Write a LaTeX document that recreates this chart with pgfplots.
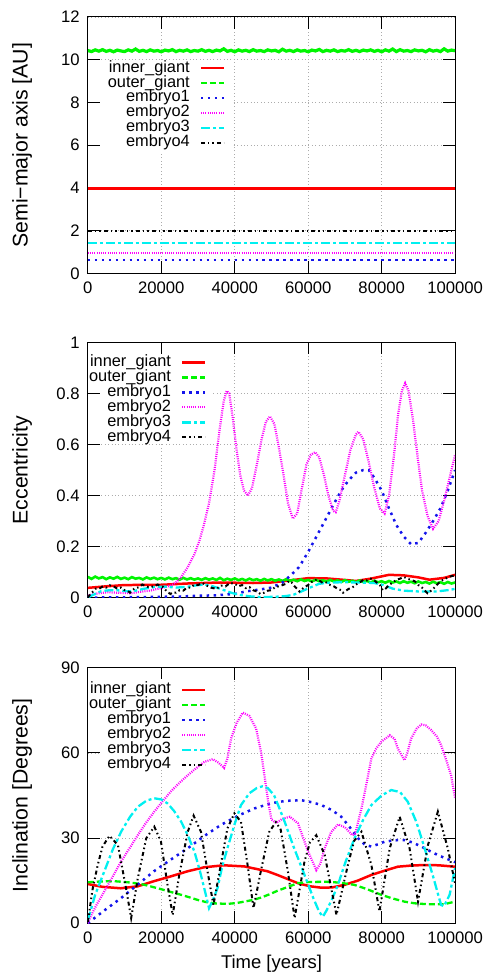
\documentclass[border=0pt]{standalone}
\usepackage{pgfplots}
\pgfplotsset{compat=1.18}
\usepackage{fontspec}
\setmainfont{Liberation Sans}
\definecolor{gpred}{RGB}{255,0,0}
\definecolor{gpgreen}{RGB}{0,245,0}
\definecolor{gpblue}{RGB}{20,20,235}
\definecolor{gpmag}{RGB}{255,0,255}
\definecolor{gpcyan}{RGB}{0,240,240}
\pgfplotsset{
  panel/.style={
    scale only axis, width=368bp, xmin=0, xmax=100,
    xtick={0,20,40,60,80,100},
    xticklabels={0,20000,40000,60000,80000,100000},
    tick align=inside, major tick length=12bp,
    axis line style={line width=1bp},
    every tick/.append style={black, line width=1bp},
    xmajorgrids, ymajorgrids,
    grid style={gray!65, line width=0.7bp, dash pattern=on 0.8bp off 2.6bp},
    tick label style={font=\fontsize{16.7bp}{20bp}\selectfont},
    xticklabel style={yshift=-4.7bp},
    yticklabel style={xshift=-4.7bp},
    /pgf/number format/assume math mode=true,
    every axis y label/.style={at={(axis description cs:-0.179,0.5)}, rotate=90, anchor=center, font=\fontsize{21.3bp}{25bp}\selectfont},
    every axis x label/.style={at={(axis description cs:0.5,-0.16)}, anchor=center, font=\fontsize{18.5bp}{22bp}\selectfont},
    legend cell align=right, legend plot pos=right,
    legend image code/.code={\draw[##1] (0bp,0bp) -- (23bp,0bp);},
    legend style={draw=none, fill=none, inner sep=2bp, anchor=north east, column sep=10bp, row sep=0bp, font=\fontsize{16.4bp}{19bp}\selectfont, nodes={inner sep=0pt, text height=11.5bp, text depth=3.5bp}},
  },
  sred/.style={color=gpred, line width=2.5bp, solid},
  sgreen/.style={color=gpgreen, line width=2.3bp, dash pattern=on 6bp off 3bp},
  sgreenband/.style={color=gpgreen, line width=2.6bp, solid, forget plot},
  sblue/.style={color=gpblue, line width=2.5bp, dash pattern=on 2.5bp off 4.5bp},
  smag/.style={color=gpmag, line width=2.2bp, dash pattern=on 1bp off 1.2bp},
  scyan/.style={color=gpcyan, line width=2.3bp, dash pattern=on 9bp off 3bp on 3bp off 3bp},
  sblack/.style={color=black, line width=2bp, dash pattern=on 4bp off 3bp on 1.5bp off 3bp on 1.5bp off 3bp},
  mask/.style={fill=white, draw=none, forget plot},
}
\begin{document}
\begin{tikzpicture}
\path (0,0) rectangle (487bp,976bp);
% ---------------- Panel 1
\begin{axis}[panel, at={(88bp,702bp)}, anchor=south west, height=257bp,
  ymin=0, ymax=12, ytick={0,2,4,6,8,10,12},
  ylabel={Semi−major axis [AU]},
  legend style={at={(axis description cs:0.380,0.8385)}}]
\addplot[mask] coordinates {(3.3,5.65) (39.4,5.65) (39.4,9.85) (3.3,9.85)};
\addplot[sred] coordinates {(0,3.97) (100,3.97)};
\addlegendimage{sgreen}
\addplot[sgreenband, line width=3.2bp] coordinates {
(0,10.43) (1,10.38) (2,10.46) (3,10.40) (4,10.47) (5,10.39) (6,10.44) (7,10.37) (8,10.45) (9,10.41)
(10,10.38) (11,10.46) (12,10.40) (13,10.50) (14,10.39) (15,10.44) (16,10.38) (17,10.46) (18,10.40) (19,10.43)
(20,10.37) (21,10.45) (22,10.41) (23,10.47) (24,10.38) (25,10.44) (26,10.40) (27,10.46) (28,10.38) (29,10.43)
(30,10.40) (31,10.47) (32,10.39) (33,10.44) (34,10.38) (35,10.45) (36,10.41) (37,10.51) (38,10.39) (39,10.44)
(40,10.37) (41,10.46) (42,10.40) (43,10.44) (44,10.38) (45,10.47) (46,10.40) (47,10.43) (48,10.38) (49,10.46)
(50,10.41) (51,10.44) (52,10.37) (53,10.49) (54,10.40) (55,10.44) (56,10.38) (57,10.46) (58,10.40) (59,10.43)
(60,10.37) (61,10.45) (62,10.41) (63,10.48) (64,10.38) (65,10.44) (66,10.40) (67,10.46) (68,10.38) (69,10.43)
(70,10.40) (71,10.47) (72,10.39) (73,10.44) (74,10.38) (75,10.45) (76,10.41) (77,10.46) (78,10.39) (79,10.44)
(80,10.37) (81,10.46) (82,10.40) (83,10.50) (84,10.38) (85,10.47) (86,10.40) (87,10.43) (88,10.38) (89,10.46)
(90,10.41) (91,10.44) (92,10.37) (93,10.47) (94,10.40) (95,10.44) (96,10.38) (97,10.51) (98,10.40) (99,10.45) (100,10.42)};
\addplot[sblue] coordinates {(0,0.62) (100,0.62)};
\addplot[smag] coordinates {(0,0.94) (100,0.94)};
\addplot[scyan] coordinates {(0,1.42) (100,1.42)};
\addplot[sblack] coordinates {(0,1.99) (100,1.99)};
\legend{inner\_giant, outer\_giant, embryo1, embryo2, embryo3, embryo4}
\end{axis}
% ---------------- Panel 2
\begin{axis}[panel, at={(88bp,377bp)}, anchor=south west, height=256bp,
  ymin=0, ymax=1, ytick={0,0.2,0.4,0.6,0.8,1}, yticklabels={0,0.2,0.4,0.6,0.8,1},
  ylabel={Eccentricity},
  legend style={at={(axis description cs:0.329,0.959)}}]
\addplot[mask] coordinates {(3.3,0.605) (34,0.605) (34,0.95) (3.3,0.95)};
\addplot[sred] coordinates {(0,0.039) (5,0.045) (10,0.05) (20,0.051) (27,0.056) (36,0.06) (45,0.058) (50,0.06) (55,0.068) (60,0.077) (65,0.076) (70,0.07) (73,0.066) (77,0.075) (82,0.09) (86,0.088) (90,0.08) (93,0.071) (97,0.078) (100,0.09)};
\addlegendimage{sgreen}
\addplot[sgreenband] coordinates {
(0,0.082) (1,0.074) (2,0.083) (3,0.076) (4,0.081) (5,0.073) (6,0.080) (7,0.075) (8,0.082) (9,0.074)
(10,0.079) (11,0.073) (12,0.081) (13,0.075) (14,0.078) (15,0.072) (16,0.080) (17,0.074) (18,0.079) (19,0.073)
(20,0.078) (21,0.072) (22,0.079) (23,0.073) (24,0.077) (25,0.071) (26,0.078) (27,0.072) (28,0.077) (29,0.071)
(30,0.076) (31,0.070) (32,0.077) (33,0.071) (34,0.076) (35,0.070) (36,0.078) (37,0.069) (38,0.075) (39,0.070)
(40,0.076) (41,0.069) (42,0.074) (43,0.068) (44,0.075) (45,0.069) (46,0.073) (47,0.067) (48,0.074) (49,0.068)
(50,0.073) (51,0.067) (52,0.072) (53,0.066) (54,0.073) (55,0.066) (56,0.071) (57,0.065) (58,0.072) (59,0.066)
(60,0.070) (61,0.064) (62,0.071) (63,0.065) (64,0.069) (65,0.063) (66,0.070) (67,0.064) (68,0.068) (69,0.062)
(70,0.069) (71,0.063) (72,0.067) (73,0.061) (74,0.068) (75,0.062) (76,0.066) (77,0.060) (78,0.067) (79,0.061)
(80,0.065) (81,0.059) (82,0.066) (83,0.060) (84,0.064) (85,0.058) (86,0.065) (87,0.059) (88,0.063) (89,0.057)
(90,0.064) (91,0.058) (92,0.062) (93,0.056) (94,0.063) (95,0.057) (96,0.061) (97,0.055) (98,0.062) (99,0.056) (100,0.060)};
\addplot[sblue] coordinates {(0,0.001) (10,0.002) (20,0.004) (25,0.005) (30,0.008) (35,0.01) (40,0.015) (43,0.025) (47,0.033) (50,0.04) (53,0.06) (55,0.085) (57.5,0.12) (60,0.18) (63,0.26) (66.7,0.36) (69,0.42) (71,0.46) (73,0.49) (75,0.5) (76.5,0.5) (78,0.47) (80,0.42) (82,0.35) (84,0.285) (86,0.24) (88,0.21) (90,0.215) (92,0.255) (94,0.3) (96,0.35) (98,0.42) (100,0.5)};
\addplot[smag] coordinates {(0,0.009) (3,0.018) (5.4,0.022) (8,0.02) (11.8,0.018) (14.5,0.024) (17.2,0.029) (19.9,0.038) (22.6,0.048) (24,0.06) (25.4,0.081) (27.2,0.12) (29,0.17) (30.3,0.22) (31.5,0.28) (33,0.37) (34.5,0.5) (35.8,0.65) (37,0.77) (37.8,0.81) (38.5,0.80) (39.5,0.70) (40.5,0.58) (41.5,0.48) (42.5,0.42) (43.6,0.40) (44.7,0.43) (46,0.52) (47.3,0.62) (48.5,0.69) (49.6,0.71) (50.8,0.68) (52,0.59) (53.3,0.48) (54.5,0.37) (55.8,0.31) (57,0.33) (58.3,0.43) (59.5,0.52) (60.7,0.56) (61.9,0.57) (63,0.55) (64.3,0.48) (65.5,0.40) (66.8,0.34) (67.5,0.335) (68.5,0.38) (70,0.48) (71.5,0.58) (73,0.64) (73.7,0.65) (75,0.62) (76.5,0.53) (78,0.43) (79.5,0.35) (80.8,0.33) (82,0.40) (83.3,0.55) (84.5,0.72) (85.5,0.81) (86.4,0.84) (87.3,0.81) (88.5,0.70) (89.8,0.55) (91,0.42) (92.5,0.32) (94,0.27) (95.5,0.30) (97,0.38) (98.5,0.47) (100,0.56)};
\addplot[scyan] coordinates {(0,0.002) (1.5,0.012) (3.6,0.026) (6,0.03) (9,0.029) (11,0.025) (13,0.028) (15.5,0.036) (18,0.042) (21,0.044) (24,0.04) (27,0.043) (30,0.05) (32,0.052) (34,0.045) (36.5,0.033) (39,0.02) (41,0.012) (44,0.006) (47,0.003) (51,0.004) (54,0.007) (56,0.012) (58,0.024) (60.5,0.04) (63,0.055) (66,0.06) (70,0.061) (74,0.06) (78,0.058) (80.5,0.05) (83,0.036) (86,0.028) (90,0.025) (95,0.025) (98,0.03) (100,0.035)};
\addplot[sblack] coordinates {(0,0.0) (0.8,0.018) (1.5,0.025) (2.2,0.036) (3,0.035) (4,0.044) (5,0.04) (6,0.049) (7,0.045) (8,0.036) (9,0.04) (10,0.03) (10.9,0.027) (11.5,0.02) (12,0.03) (13,0.038) (14,0.042) (14.8,0.052) (15.5,0.048) (16.5,0.042) (18,0.045) (19,0.052) (20.5,0.042) (21.5,0.025) (22.5,0.015) (23.2,0.022) (24,0.02) (25,0.03) (26,0.028) (27,0.04) (28,0.04) (29,0.052) (30,0.05) (31.2,0.058) (32.5,0.047) (33.5,0.04) (35,0.035) (36.3,0.048) (37.5,0.045) (38.7,0.058) (40,0.055) (41,0.045) (42,0.05) (43,0.038) (44,0.042) (45,0.03) (46,0.025) (47,0.015) (48,0.02) (49,0.028) (50,0.03) (51,0.042) (52,0.045) (53,0.05) (54,0.055) (54.8,0.066) (55.5,0.06) (56.3,0.045) (57,0.035) (57.6,0.025) (58,0.03) (59,0.042) (60,0.05) (60.8,0.062) (61.5,0.065) (62.3,0.072) (63,0.068) (64,0.058) (65,0.06) (66,0.05) (67,0.045) (68,0.035) (69,0.03) (69.5,0.02) (70,0.025) (71,0.035) (72,0.04) (73,0.052) (74,0.06) (75,0.07) (76,0.068) (77,0.075) (78,0.068) (78.8,0.058) (79.5,0.05) (80.3,0.03) (81,0.035) (82,0.05) (83,0.06) (84,0.07) (85,0.075) (86,0.082) (87,0.075) (88,0.07) (89,0.065) (90,0.05) (91,0.04) (91.8,0.028) (92.5,0.018) (93.2,0.025) (94,0.035) (95,0.05) (96,0.065) (97,0.072) (98,0.08) (99,0.085) (100,0.088)};
\legend{inner\_giant, outer\_giant, embryo1, embryo2, embryo3, embryo4}
\end{axis}
% ---------------- Panel 3
\begin{axis}[panel, at={(88bp,51bp)}, anchor=south west, height=256bp,
  ymin=0, ymax=90, ytick={0,30,60,90},
  ylabel={Inclination [Degrees]}, xlabel={Time [years]},
  legend style={at={(axis description cs:0.329,0.951)}}]
\addplot[mask] coordinates {(3.3,53.8) (34,53.8) (34,86) (3.3,86)};
\addplot[sred] coordinates {(0,13.8) (4,12.8) (9,12.3) (13.6,13) (18,14.8) (22.6,16.5) (27.2,18.3) (31.7,19.7) (37,20.4) (42.6,20) (48.9,18.3) (51.6,17) (54.5,15.5) (57.2,14.1) (60.5,13) (63.6,12.5) (66.5,12.6) (69.9,13.5) (73.5,15) (77.2,17) (80.8,18.5) (84.4,19.9) (88,20.3) (91.7,20.5) (95.5,20.4) (100,19.9)};
\addplot[sgreen] coordinates {(0,14.4) (3.5,14.7) (7.2,14.8) (11,14.4) (14.5,13.8) (17,13) (19.9,12) (22.6,11) (25.4,10) (27.7,9.1) (29.9,8.2) (32,7.5) (34.4,7) (38,6.8) (40.5,7.1) (42.6,7.6) (45,8.2) (47.1,9) (49.5,10.2) (51.6,11.4) (54.5,12.8) (57.2,14.1) (60,14.5) (64.8,14.6) (68.5,14.3) (72.6,13.5) (76,12) (79.9,10) (83,8.7) (86.2,7.6) (89,7) (92.3,6.7) (97,6.7) (100,7.6)};
\addplot[sblue] coordinates {(0,0) (4.5,4.5) (9,8.8) (13.5,13.5) (18,18.3) (22.6,22.4) (27.2,26.4) (31.7,30.7) (36.2,34.6) (40.8,37.8) (45.3,40.4) (50,42.3) (54,43.1) (58.2,43.3) (61,42.6) (63.6,41.6) (66.5,39.8) (69,37.5) (71.5,33.5) (73.6,29.9) (75.5,27.6) (77.2,27) (79,27.8) (80.8,28.7) (83.5,29.2) (86.2,29.3) (88.5,28.4) (90.8,27) (93,25.5) (95.3,24) (97.5,22.8) (100,21.5)};
\addplot[smag] coordinates {(0,0) (1,3) (2.5,6.8) (4.5,11.2) (6.8,16.5) (9.1,21.8) (11.4,26.5) (13.6,31) (15.8,35.3) (18.1,39.3) (20.4,43) (22.6,46.4) (24.9,49.4) (27.2,52.1) (29.5,54.6) (31.7,56.8) (34,57.8) (35.5,56.6) (37.1,54.7) (38,58) (39,65) (40.5,70.5) (42.2,74.2) (44,73) (45.8,68.6) (47.2,60) (48.2,51) (49.2,42) (50,36.5) (51.3,35.3) (53,36.8) (55,37.5) (57.2,35.2) (58.5,30.5) (60,25.2) (62.2,18.7) (63.3,21) (64.5,26.4) (66.2,32) (68.1,34.8) (70,33.8) (72,31) (72.8,31.5) (74.5,40.4) (76,50) (77.2,58) (78.5,61.5) (79.9,63.9) (82.2,66.2) (83.5,65) (84.4,61.5) (86.2,57.4) (87,60) (88,65) (89.5,68.5) (90.8,70) (92,69.7) (93.5,68) (95,65.8) (96.2,62.7) (97.7,57) (98.9,52.1) (100,44)};
\addplot[scyan] coordinates {(0,1) (2,10) (4.5,18.3) (6.8,26) (9.1,32.3) (11.5,37.5) (13.6,41) (16,43.2) (18.1,44) (20,43.6) (21.7,42.2) (23.5,39.5) (25.4,35.8) (27.2,31) (29,25.3) (30.5,18.5) (31.7,12.3) (33,5.3) (34,8) (35.3,12.3) (36.5,19.5) (38,26.4) (40,35) (41.7,41.6) (44,45.8) (46,47.6) (47.5,48.2) (49,47.6) (50.7,45.1) (52,41) (53.6,35.7) (56,27) (59,17) (61.5,8.5) (63,4) (64,2.3) (65,4.5) (66.5,8.5) (68.1,13.5) (70,21) (72.6,29.9) (75,36.5) (77.2,41.6) (80,45) (82.6,46.9) (85,46.2) (87.1,42.8) (89.5,35.5) (91.7,26.4) (94,16.5) (95.5,9.5) (96.2,6.4) (97,6) (98.5,10) (100,19.5)};
\addplot[sblack] coordinates {(0,0.5) (1.3,12) (2.7,20.5) (4,27) (5.9,30.8) (8.2,27.5) (10.4,12.3) (11.8,1.8) (13.6,15.8) (15.9,29.9) (18.1,34) (19.9,28.8) (21.7,13.5) (23.1,2.9) (24.9,17) (27.2,32.2) (28.8,37.9) (30.8,32.2) (32.6,18.2) (34.2,6.4) (36.2,20.5) (38,33.4) (39.9,38.7) (41.7,35.7) (43.5,20.5) (45.1,5.3) (47.1,18.3) (49.4,32.2) (51.2,35.6) (52.5,33) (54.5,18) (56.3,1.8) (59,21.8) (60.5,28.5) (62.2,31) (64.5,24) (67.7,2.9) (70.8,20.5) (72.5,29) (74.5,32.2) (77.2,20.5) (79.4,4.1) (82.2,26.4) (84.9,37.5) (87.6,26.4) (89.9,7.6) (92.6,27.5) (95.3,39.3) (98,26.4) (100,14)};
\legend{inner\_giant, outer\_giant, embryo1, embryo2, embryo3, embryo4}
\end{axis}
\end{tikzpicture}
\end{document}
